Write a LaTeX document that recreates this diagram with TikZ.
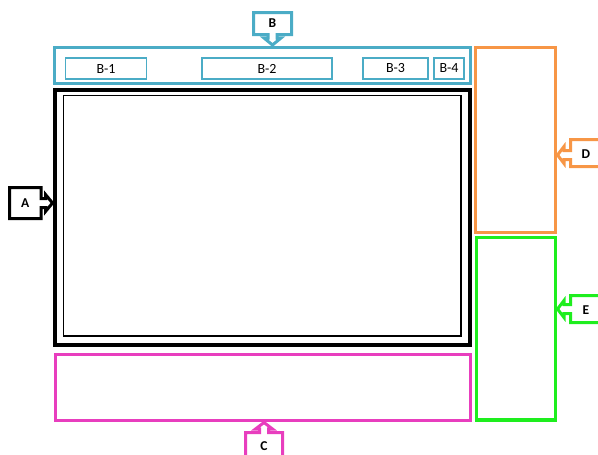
\documentclass[tikz,border=0pt]{standalone}
\usepackage{fontspec}
\setmainfont{Carlito}
\definecolor{cteal}{RGB}{75,172,198}
\definecolor{corange}{RGB}{247,150,70}
\definecolor{cmag}{RGB}{232,62,190}
\definecolor{cgreen}{RGB}{30,238,30}
\begin{document}
\begin{tikzpicture}[x=1pt,y=-1pt,
  subbox/.style={draw=cteal,line width=1.4pt,inner sep=0pt,minimum height=21pt,font=\fontsize{14}{16}\selectfont},
  callout/.style={line width=3pt,fill=white,line join=miter},
  lbl/.style={font=\fontsize{13.5}{16}\selectfont\bfseries,inner sep=0pt}]
\useasboundingbox (0,0) rectangle (598,455);
% panels
\node[draw=cteal,line width=3pt,inner sep=0pt,minimum width=415.7pt,minimum height=35.5pt] (B) at (262.15,65.25) {};
\node[subbox,minimum width=81pt] (B1) at (106,68.5) {B-1};
\node[subbox,minimum width=130pt] (B2) at (267,68.5) {B-2};
\node[subbox,minimum width=65pt] (B3) at (395.5,68.5) {B-3};
\node[subbox,minimum width=30pt] (B4) at (449,68.5) {B-4};
\node[draw=black,line width=4pt,inner sep=0pt,minimum width=415pt,minimum height=255pt] (A) at (262.2,217.2) {};
\node[draw=black,line width=1.4pt,inner sep=0pt,minimum width=397.7pt,minimum height=240.5pt] (Ain) at (262.15,215.75) {};
\node[draw=cmag,line width=3pt,inner sep=0pt,minimum width=415pt,minimum height=66pt] (C) at (262.5,387.5) {};
\node[draw=corange,line width=3pt,inner sep=0pt,minimum width=80pt,minimum height=185pt] (D) at (515.5,140) {};
\node[draw=cgreen,line width=3.4pt,inner sep=0pt,minimum width=78.8pt,minimum height=182.5pt] (E) at (516.1,328.75) {};
% callout A (points right)
\draw[callout,draw=black] (9.5,187.5) -- (41,187.5) -- (41,198.5) -- (45.5,198.5) -- (45.5,194.5) -- (52.5,203) -- (45.5,211.5) -- (45.5,207.5) -- (41,207.5) -- (41,218.5) -- (9.5,218.5) -- cycle;
\node[lbl] (LA) at (25.2,203) {A};
% callout B (points down)
\draw[callout,draw=cteal] (253.5,12.5) -- (291.5,12.5) -- (291.5,34.5) -- (277,34.5) -- (277,38) -- (281,38) -- (272.5,45) -- (264,38) -- (268,38) -- (268,34.5) -- (253.5,34.5) -- cycle;
\node[lbl] (LB) at (272.5,23.5) {B};
% callout C (points up)
\draw[callout,draw=cmag] (245.5,460) -- (245.5,432.5) -- (259.5,432.5) -- (259.5,429) -- (255.5,429) -- (264,422.5) -- (272.5,429) -- (268.5,429) -- (268.5,432.5) -- (282.5,432.5) -- (282.5,460);
\node[lbl] (LC) at (264,446.5) {C};
% callout D (points left)
\draw[callout,draw=corange] (600,139.5) -- (570.5,139.5) -- (570.5,150.5) -- (564,150.5) -- (564,146.5) -- (557.5,155) -- (564,163.5) -- (564,159.5) -- (570.5,159.5) -- (570.5,166.5) -- (600,166.5);
\node[lbl] (LD) at (586,154) {D};
% callout E (points left)
\draw[callout,draw=cgreen] (600,295.5) -- (570.5,295.5) -- (570.5,304.5) -- (564,304.5) -- (564,300.5) -- (557.5,309) -- (564,317.5) -- (564,313.5) -- (570.5,313.5) -- (570.5,322.5) -- (600,322.5);
\node[lbl] (LE) at (586,310) {E};
\end{tikzpicture}
\end{document}
